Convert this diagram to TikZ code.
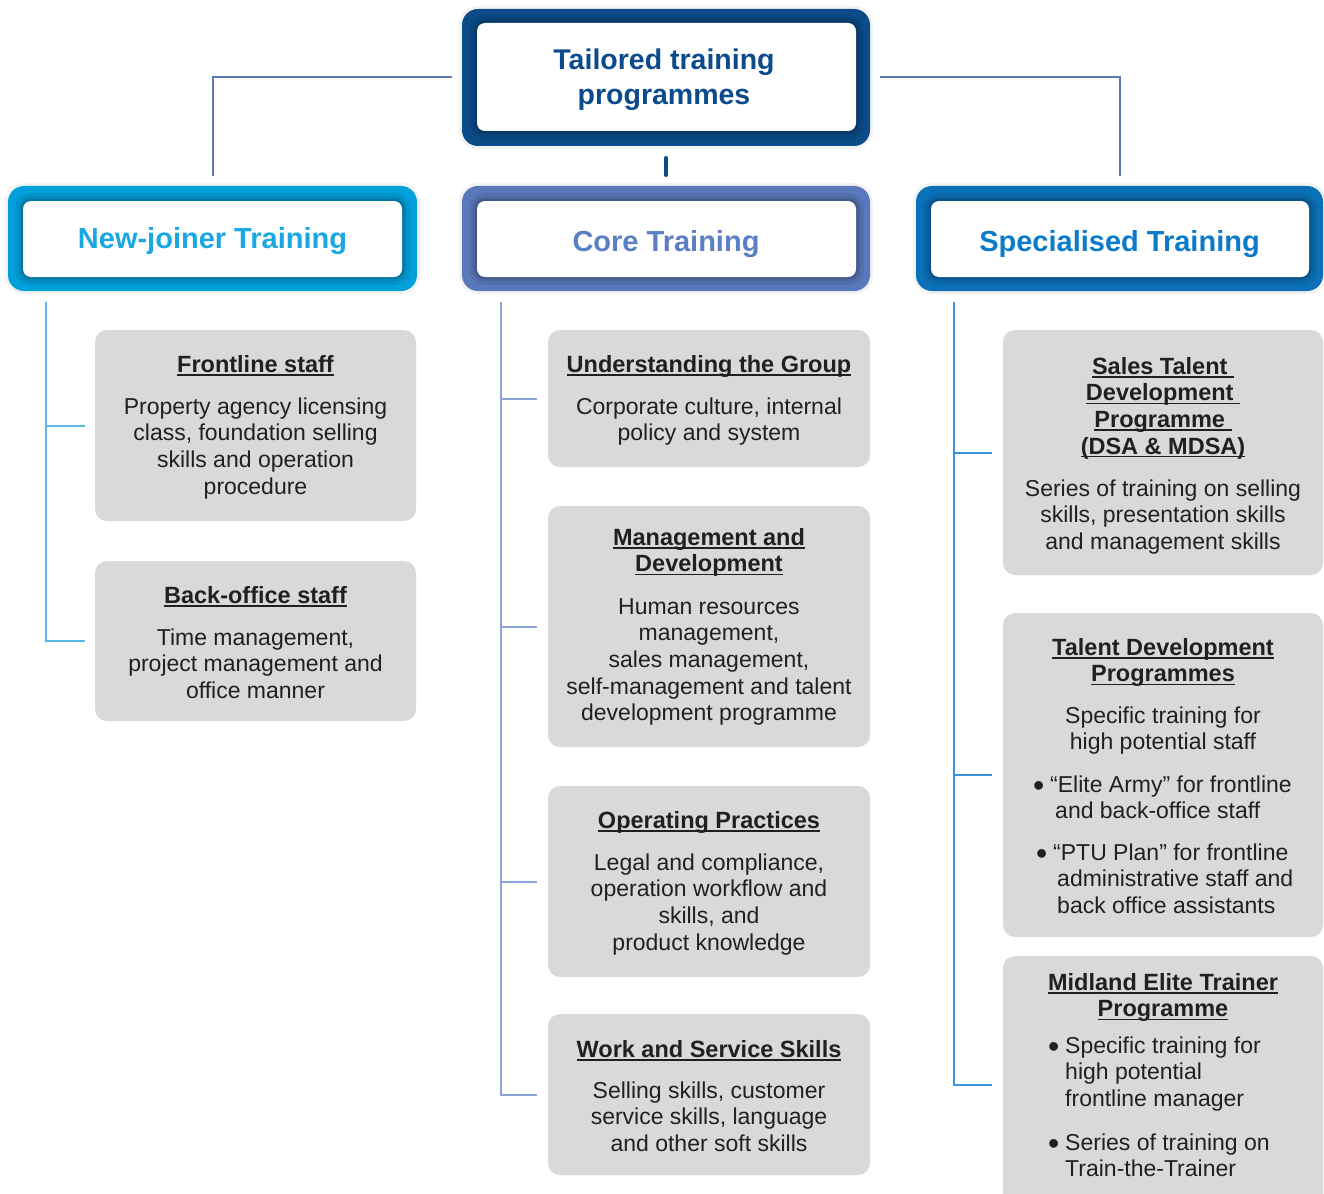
\documentclass[tikz,border=0pt]{standalone}
\usepackage{fontspec}
\setmainfont{Liberation Sans}

\definecolor{topblue}{HTML}{0B4C88}
\definecolor{njblue}{HTML}{00A0DA}
\definecolor{ctblue}{HTML}{5A79BC}
\definecolor{spblue}{HTML}{0A71B8}
\definecolor{toptext}{HTML}{0B4A8D}
\definecolor{njtext}{HTML}{1AA8E2}
\definecolor{cttext}{HTML}{5B7FC4}
\definecolor{sptext}{HTML}{0A7BC8}
\definecolor{linkgray}{HTML}{5C7AB2}
\definecolor{njline}{HTML}{5DB8EA}
\definecolor{ctline}{HTML}{8CA3DA}
\definecolor{spline}{HTML}{3C93D7}
\definecolor{cardgray}{HTML}{D8D9DB}
\definecolor{ink}{HTML}{231F20}

% underline that sits just below the baseline
\newcommand\undl[1]{\setbox0=\hbox{#1}\rlap{\rule[-3.4pt]{\wd0}{1.4pt}}\box0}
% fixed first-line height, so a north anchor sits 18pt above the first baseline
\newcommand\tstrut{\rule{0pt}{18pt}}
% list bullet and the matching hanging indent
\newcommand\bitem{\makebox[8pt][l]{\fontsize{32}{32}\selectfont\raisebox{-3.8pt}{\textbullet}}\hspace{9pt}}
\newcommand\bcont{\hspace{17pt}}

\begin{document}
\begin{tikzpicture}[x=1pt,y=-1pt,
  frame/.style={fill=#1, rounded corners=16pt, inner sep=0pt,
    preaction={draw=black, opacity=0.05, line width=6pt}},
  face/.style={fill=white, rounded corners=8pt, inner sep=0pt,
    preaction={draw=black, opacity=0.07, line width=16pt},
    preaction={draw=black, opacity=0.09, line width=9pt},
    preaction={draw=black, opacity=0.12, line width=4pt}},
  card/.style={fill=cardgray, rounded corners=12pt, inner sep=0pt},
  head/.style={anchor=base, inner sep=0pt, font=\fontsize{29}{34}\selectfont\bfseries},
  ttl/.style={anchor=north, inner sep=0pt, align=center, text=ink,
    font=\fontsize{23.5}{26.6}\selectfont\bfseries},
  txt/.style={anchor=north, inner sep=0pt, align=center, text=ink,
    font=\fontsize{23}{26.6}\selectfont},
  bl/.style={txt, anchor=north west, align=left},
  link/.style={draw=linkgray, line width=2pt},
  tick/.style={draw=topblue, line width=4.5pt, line cap=round},
  spine/.style={draw=#1, line width=2pt}]

\useasboundingbox (0,0) rectangle (1324,1193);
\clip (0,0) rectangle (1324,1193);

% ---- top box ----
\node[frame=topblue, minimum width=408pt, minimum height=137pt] (top) at (666,77.5) {};
\node[face, minimum width=379pt, minimum height=108pt] (topface) at (666.5,77) {};
\node[anchor=north, inner sep=0pt, align=center, text=toptext,
  font=\fontsize{28.5}{35}\selectfont\bfseries] (toptitle) at (664,47)
  {\rule{0pt}{22pt}Tailored training\\programmes};

% ---- three headers ----
\node[frame=njblue, minimum width=409pt, minimum height=105pt] (nj) at (212.5,238.5) {};
\node[face, minimum width=379pt, minimum height=76pt] (njface) at (212.5,239) {};
\node[head, text=njtext] (njlabel) at (212.5,248) {New-joiner Training};

\node[frame=ctblue, minimum width=408pt, minimum height=105pt] (ct) at (666,238.5) {};
\node[face, minimum width=379pt, minimum height=76pt] (ctface) at (666.5,239) {};
\node[head, text=cttext] (ctlabel) at (666,251) {Core Training};

\node[frame=spblue, minimum width=407pt, minimum height=105pt] (sp) at (1119.5,238.5) {};
\node[face, minimum width=378pt, minimum height=76pt] (spface) at (1120,239) {};
\node[head, text=sptext] (splabel) at (1119.5,251) {Specialised Training};

% ---- connectors from the top box ----
\draw[link] ([xshift=-10pt]top.west) -| ([yshift=10pt]nj.north);
\draw[link] ([xshift=10pt]top.east) -| ([yshift=10pt]sp.north);
\draw[tick] ([yshift=-12pt]top.south) -- ([yshift=11pt]ct.north);

% ---- cards: new-joiner ----
\node[card, minimum width=321pt, minimum height=191pt] (fl) at (255.5,425.5) {};
\node[card, minimum width=321pt, minimum height=160pt] (bo) at (255.5,641) {};

% ---- cards: core ----
\node[card, minimum width=322pt, minimum height=137pt] (ug) at (709,398.5) {};
\node[card, minimum width=322pt, minimum height=241pt] (md) at (709,626.5) {};
\node[card, minimum width=322pt, minimum height=191pt] (op) at (709,881.5) {};
\node[card, minimum width=322pt, minimum height=161pt] (ws) at (709,1094.5) {};

% ---- cards: specialised ----
\node[card, minimum width=320pt, minimum height=245pt] (st) at (1163,452.5) {};
\node[card, minimum width=320pt, minimum height=324pt] (td) at (1163,775) {};
\node[card, minimum width=320pt, minimum height=258pt] (me) at (1163,1085) {};

% ---- spines and branches ----
\coordinate (njs) at ([xshift=38pt,yshift=-11pt]nj.south west);
\draw[spine=njline] (njs) |- ([xshift=-10pt]bo.west);
\draw[spine=njline] (njs |- fl.west) -- ([xshift=-10pt]fl.west);

\coordinate (cts) at ([xshift=39pt,yshift=-11pt]ct.south west);
\draw[spine=ctline] (cts) |- ([xshift=-11pt]ws.west);
\draw[spine=ctline] (cts |- ug.west) -- ([xshift=-11pt]ug.west);
\draw[spine=ctline] (cts |- md.west) -- ([xshift=-11pt]md.west);
\draw[spine=ctline] (cts |- op.west) -- ([xshift=-11pt]op.west);

\coordinate (sps) at ([xshift=38pt,yshift=-11pt]sp.south west);
\draw[spine=spline] (sps) |- ([xshift=-11pt]me.west);
\draw[spine=spline] (sps |- st.west) -- ([xshift=-11pt]st.west);
\draw[spine=spline] (sps |- td.west) -- ([xshift=-11pt]td.west);

% ---- card texts: new-joiner ----
\node[ttl] (fl-t) at (255.5,354) {\tstrut\undl{Frontline staff}};
\node[txt] (fl-b) at (255.5,396) {\tstrut Property agency licensing\\class, foundation selling\\skills and operation\\procedure};

\node[ttl] (bo-t) at (255.5,585) {\tstrut\undl{Back-office staff}};
\node[txt] (bo-b) at (255.5,627) {\tstrut Time management,\\project management and\\office manner};

% ---- card texts: core ----
\node[ttl] (ug-t) at (709,354) {\tstrut\undl{Understanding the Group}};
\node[txt] (ug-b) at (709,396) {\tstrut Corporate culture, internal\\policy and system};

\node[ttl] (md-t) at (709,527) {\tstrut\undl{Management and}\\\undl{Development}};
\node[txt] (md-b) at (709,596) {\tstrut Human resources\\management,\\sales management,\\self-management and talent\\development programme};

\node[ttl] (op-t) at (709,810) {\tstrut\undl{Operating Practices}};
\node[txt] (op-b) at (709,852) {\tstrut Legal and compliance,\\operation workflow and\\skills, and\\product knowledge};

\node[ttl] (ws-t) at (709,1039) {\tstrut\undl{Work and Service Skills}};
\node[txt] (ws-b) at (709,1080) {\tstrut Selling skills, customer\\service skills, language\\and other soft skills};

% ---- card texts: specialised ----
\node[ttl] (st-t) at (1163,356) {\tstrut\undl{Sales Talent\ }\\\undl{Development\ }\\\undl{Programme\ }\\\undl{(DSA \& MDSA)}};
\node[txt] (st-b) at (1163,478) {\tstrut Series of training on selling\\skills, presentation skills\\and management skills};

\node[ttl] (td-t) at (1163,637) {\tstrut\undl{Talent Development}\\\undl{Programmes}};
\node[txt] (td-b) at (1163,705) {\tstrut Specific training for\\high potential staff};
\node[bl] (td-b1) at (1033,774) {\tstrut\bitem “Elite Army” for frontline\\\bcont\hspace{5pt}and back-office staff};
\node[bl] (td-b2) at (1036,842) {\tstrut\bitem “PTU Plan” for frontline\\\bcont\hspace{4pt}administrative staff and\\\bcont\hspace{4pt}back office assistants};

\node[ttl] (me-t) at (1163,972) {\tstrut\undl{Midland Elite Trainer}\\\undl{Programme}};
\node[bl] (me-b1) at (1048,1035) {\tstrut\bitem Specific training for\\\bcont high potential\\\bcont frontline manager};
\node[bl] (me-b2) at (1048,1132) {\tstrut\bitem Series of training on\\\bcont Train-the-Trainer};

\end{tikzpicture}
\end{document}
